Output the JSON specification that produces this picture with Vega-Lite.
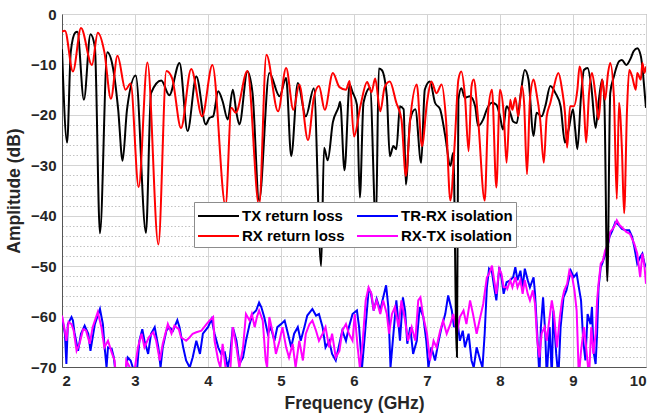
{
"$schema":"https://vega.github.io/schema/vega-lite/v6.json",
"width":584,"height":353,
"autosize":{"type":"none"},
"padding":{"left":62,"top":14,"right":8,"bottom":48},
"background":"white",
"config":{"view":{"stroke":"#8c8c8c","strokeWidth":1},"font":"Liberation Sans"},
"datasets":{
"tx":[[2.00,-7.0],[2.07,-25.5],[2.12,-7.5],[2.18,-3.7],[2.21,-3.5],[2.30,-17.0],[2.39,-4.0],[2.45,-6.5],[2.52,-43.5],[2.62,-7.6],[2.70,-10.8],[2.77,-19],[2.83,-29.1],[2.89,-19],[3.01,-12.2],[3.15,-43.4],[3.22,-15.7],[3.36,-13.2],[3.47,-16.1],[3.61,-9.7],[3.72,-23.2],[3.84,-12.4],[3.97,-21.9],[4.02,-20.6],[4.07,-20.3],[4.14,-15.3],[4.20,-17.3],[4.27,-20.9],[4.34,-15.0],[4.39,-19.6],[4.43,-21.9],[4.54,-11.4],[4.61,-15.7],[4.70,-37.0],[4.84,-11.7],[4.98,-16.3],[5.07,-12.7],[5.14,-28.2],[5.23,-13.7],[5.34,-20.3],[5.45,-14.7],[5.55,-50.0],[5.59,-26.5],[5.64,-29.0],[5.71,-21.5],[5.79,-18.4],[5.81,-17.4],[5.87,-31.0],[5.94,-14.0],[5.98,-15.5],[6.04,-18.0],[6.08,-36.4],[6.13,-17.6],[6.22,-14.6],[6.30,-42.0],[6.34,-10.8],[6.38,-11.1],[6.45,-16.3],[6.49,-28.2],[6.54,-26.2],[6.58,-26.8],[6.63,-18.3],[6.68,-18.9],[6.71,-33.8],[6.77,-20.9],[6.84,-18.9],[6.92,-29.5],[6.97,-15.0],[7.04,-13.4],[7.11,-17.6],[7.18,-18.9],[7.25,-24.2],[7.32,-30.1],[7.36,-27.5],[7.41,-68.0],[7.43,-17.0],[7.47,-14.7],[7.52,-16.6],[7.59,-16.3],[7.66,-18.3],[7.70,-22.2],[7.77,-20.9],[7.82,-18.9],[7.89,-17.6],[7.95,-18.0],[8.00,-20.3],[8.04,-22.9],[8.09,-18.3],[8.14,-19.6],[8.18,-21.3],[8.23,-21.6],[8.28,-16.3],[8.34,-11.1],[8.39,-13.0],[8.46,-24.2],[8.50,-19.6],[8.57,-20.3],[8.62,-18.3],[8.69,-14.3],[8.76,-15.7],[8.83,-18.3],[8.89,-25.5],[8.94,-22.9],[9.00,-18.9],[9.03,-22.9],[9.06,-26.8],[9.11,-16.3],[9.15,-11.1],[9.20,-10.7],[9.25,-14.3],[9.31,-22.6],[9.35,-17.6],[9.40,-13.0],[9.43,-17.6],[9.47,-53.0],[9.51,-15.7],[9.56,-12.4],[9.63,-9.4],[9.67,-9.1],[9.73,-10.1],[9.79,-8.8],[9.83,-7.4],[9.88,-6.8],[9.93,-8.4],[9.96,-12.0],[9.99,-17.0],[10.00,-18.6]],
"rx":[[2.00,-3.5],[2.04,-3.3],[2.15,-11.4],[2.26,-2.8],[2.41,-10.1],[2.49,-3.7],[2.58,-7.5],[2.67,-16.8],[2.76,-8.3],[2.87,-15.0],[2.94,-13.8],[3.05,-34.3],[3.17,-9.6],[3.32,-45.7],[3.43,-11.3],[3.51,-12.8],[3.63,-22.6],[3.77,-10.9],[3.92,-20.3],[4.06,-10.1],[4.24,-38.0],[4.32,-18.6],[4.38,-19.6],[4.54,-11.3],[4.70,-38.0],[4.80,-8.1],[4.96,-19.3],[5.07,-10.7],[5.17,-19.0],[5.25,-14.0],[5.37,-25.0],[5.45,-16.6],[5.52,-14.3],[5.60,-19.0],[5.71,-11.7],[5.80,-14.5],[5.89,-15.0],[5.94,-13.3],[6.00,-24.3],[6.09,-18.1],[6.18,-13.5],[6.24,-15.5],[6.29,-12.8],[6.36,-19.3],[6.42,-14.5],[6.49,-13.4],[6.58,-17.6],[6.65,-20.9],[6.71,-32.1],[6.77,-20.9],[6.86,-14.0],[6.93,-26.2],[7.00,-17.6],[7.06,-13.4],[7.13,-15.7],[7.20,-14.0],[7.26,-20.9],[7.32,-37.0],[7.38,-25.5],[7.43,-13.0],[7.47,-11.4],[7.52,-16.3],[7.57,-27.2],[7.61,-14.3],[7.64,-13.0],[7.70,-20.9],[7.79,-37.0],[7.84,-19.0],[7.89,-15.0],[7.95,-34.4],[8.00,-15.0],[8.05,-19.6],[8.09,-29.5],[8.14,-17.0],[8.17,-19.0],[8.21,-16.6],[8.25,-20.3],[8.30,-14.3],[8.33,-17.6],[8.37,-31.8],[8.41,-17.0],[8.46,-13.0],[8.50,-15.7],[8.55,-20.9],[8.60,-29.5],[8.64,-20.3],[8.69,-17.6],[8.73,-15.0],[8.80,-11.7],[8.85,-15.0],[8.89,-19.6],[8.92,-26.5],[8.96,-18.3],[9.01,-18.3],[9.06,-15.0],[9.09,-10.4],[9.12,-12.4],[9.15,-18.3],[9.18,-25.5],[9.22,-15.7],[9.26,-11.7],[9.31,-16.3],[9.35,-20.9],[9.40,-13.0],[9.44,-17.0],[9.48,-11.7],[9.51,-9.7],[9.56,-16.3],[9.60,-36.7],[9.63,-17.6],[9.67,-26.8],[9.70,-39.5],[9.74,-19.0],[9.77,-11.1],[9.81,-12.4],[9.86,-15.0],[9.88,-11.7],[9.93,-13.0],[9.95,-9.7],[9.98,-11.7],[10.00,-10.4]],
"trrx":[[2.00,-60.1],[2.04,-63.4],[2.06,-69.4],[2.08,-61.5],[2.13,-60.1],[2.15,-60.8],[2.17,-63.1],[2.22,-66.8],[2.26,-63.4],[2.31,-61.8],[2.36,-63.4],[2.39,-66.8],[2.45,-61.5],[2.52,-58.5],[2.56,-61.5],[2.58,-65.4],[2.61,-70.1],[2.63,-66.1],[2.68,-66.4],[2.71,-68.1],[2.74,-72],[2.80,-75],[2.86,-72],[2.90,-68.1],[2.94,-68.7],[2.97,-70.1],[3.02,-72],[3.06,-64.8],[3.10,-62.5],[3.13,-64.8],[3.18,-67.4],[3.22,-63.4],[3.27,-62.1],[3.32,-66.1],[3.35,-70.1],[3.38,-66.1],[3.43,-62.8],[3.47,-62.1],[3.52,-62.8],[3.58,-60.7],[3.61,-62.1],[3.66,-66.1],[3.70,-68.7],[3.75,-70.1],[3.79,-68.1],[3.84,-64.8],[3.89,-67.4],[3.93,-63.4],[4.00,-62.1],[4.05,-60.5],[4.09,-63.4],[4.14,-66.1],[4.18,-67.4],[4.23,-67.1],[4.27,-70.1],[4.30,-68.1],[4.34,-62.1],[4.39,-64.8],[4.43,-69.4],[4.48,-68.1],[4.52,-64.8],[4.57,-61.5],[4.61,-59.5],[4.66,-58.8],[4.70,-57.2],[4.73,-58.1],[4.77,-60.1],[4.82,-63.4],[4.86,-62.1],[4.91,-64.8],[4.95,-62.1],[5.00,-61.5],[5.05,-60.8],[5.09,-63.1],[5.14,-66.1],[5.18,-63.4],[5.23,-62.1],[5.27,-64.8],[5.32,-62.1],[5.36,-59.8],[5.43,-58.5],[5.48,-59.8],[5.52,-59.5],[5.57,-62.1],[5.61,-66.1],[5.66,-64.8],[5.70,-67.4],[5.75,-68.7],[5.80,-65.4],[5.84,-62.8],[5.89,-64.8],[5.93,-62.1],[5.98,-59.5],[6.04,-58.8],[6.07,-62.1],[6.11,-70.1],[6.15,-63.4],[6.20,-54.8],[6.23,-55.2],[6.27,-58.8],[6.31,-56.5],[6.36,-58.8],[6.39,-56.8],[6.44,-53.8],[6.47,-58.1],[6.50,-70.1],[6.54,-63.4],[6.58,-56.8],[6.63,-64.8],[6.67,-56.2],[6.70,-58.8],[6.73,-65.4],[6.77,-62.1],[6.81,-67.4],[6.86,-64.8],[6.90,-58.1],[6.95,-60.1],[6.99,-64.8],[7.02,-70.1],[7.06,-66.1],[7.11,-68.7],[7.16,-64.8],[7.20,-62.1],[7.25,-59.5],[7.29,-55.8],[7.34,-58.8],[7.37,-62.1],[7.41,-60.1],[7.45,-64.8],[7.49,-62.8],[7.52,-66.1],[7.57,-63.4],[7.61,-68.7],[7.64,-70.1],[7.68,-66.1],[7.73,-68.7],[7.76,-70.1],[7.79,-63.4],[7.82,-54.2],[7.85,-50.5],[7.89,-51.2],[7.92,-54.2],[7.95,-56.8],[7.99,-50.2],[8.02,-52.2],[8.05,-55.5],[8.09,-53.2],[8.14,-52.8],[8.18,-52.2],[8.21,-50.2],[8.24,-52.8],[8.28,-50.9],[8.31,-54.2],[8.34,-50.5],[8.38,-52.8],[8.41,-54.2],[8.46,-52.2],[8.48,-55.5],[8.51,-63.4],[8.54,-72],[8.56,-62.1],[8.59,-56.2],[8.62,-63.4],[8.64,-72],[8.68,-62.1],[8.71,-72],[8.73,-58.8],[8.77,-67.4],[8.80,-72],[8.83,-62.1],[8.87,-56.2],[8.91,-54.8],[8.94,-52.8],[8.97,-50.9],[9.01,-52.2],[9.05,-51.5],[9.08,-54.2],[9.11,-56.8],[9.14,-64.8],[9.17,-68.7],[9.20,-59.5],[9.24,-61.5],[9.26,-58.1],[9.28,-66.8],[9.31,-69.4],[9.33,-63.4],[9.35,-54.2],[9.38,-50.2],[9.40,-49.5],[9.43,-48.2],[9.47,-46.2],[9.50,-44.2],[9.54,-42.9],[9.58,-41.3],[9.63,-41.9],[9.67,-42.6],[9.72,-42.9],[9.77,-42.9],[9.81,-44.2],[9.84,-46.2],[9.88,-49.5],[9.92,-48.2],[9.95,-47.5],[9.98,-49.5],[10.00,-50.2]],
"rxtx":[[2.00,-59.8],[2.03,-62.1],[2.06,-64.8],[2.09,-61.1],[2.13,-61.5],[2.16,-62.8],[2.20,-66.8],[2.24,-65.4],[2.29,-62.5],[2.33,-62.8],[2.38,-65.4],[2.42,-62.1],[2.49,-59.1],[2.54,-62.1],[2.58,-66.1],[2.63,-64.8],[2.68,-67.1],[2.72,-68.7],[2.74,-72],[2.82,-75],[2.87,-72],[2.88,-68.7],[2.93,-70.1],[2.98,-72],[3.04,-66.1],[3.09,-63.4],[3.13,-66.1],[3.19,-64.1],[3.25,-63.1],[3.29,-64.8],[3.34,-68.7],[3.38,-65.4],[3.45,-61.5],[3.50,-63.4],[3.54,-61.8],[3.60,-62.5],[3.63,-64.1],[3.70,-64.8],[3.75,-64.1],[3.79,-63.4],[3.84,-63.1],[3.91,-62.8],[3.98,-61.5],[4.02,-60.8],[4.07,-60.1],[4.09,-64.8],[4.14,-68.7],[4.17,-70.1],[4.20,-65.4],[4.24,-70.1],[4.30,-72],[4.34,-62.1],[4.39,-66.1],[4.43,-70.1],[4.48,-66.1],[4.52,-59.5],[4.57,-60.8],[4.60,-59.5],[4.64,-62.1],[4.67,-60.1],[4.70,-58.8],[4.75,-60.8],[4.79,-68.7],[4.81,-70.1],[4.84,-60.1],[4.89,-63.4],[4.93,-67.4],[4.98,-64.8],[5.02,-62.1],[5.07,-66.1],[5.11,-68.1],[5.16,-65.4],[5.20,-70.1],[5.25,-64.8],[5.30,-68.7],[5.34,-63.4],[5.39,-61.5],[5.43,-60.8],[5.48,-62.8],[5.52,-64.8],[5.57,-63.4],[5.61,-62.1],[5.66,-66.1],[5.70,-63.4],[5.75,-68.1],[5.80,-66.8],[5.84,-62.8],[5.89,-61.5],[5.93,-63.4],[5.98,-64.8],[6.01,-59.5],[6.05,-66.1],[6.08,-70.1],[6.12,-64.8],[6.16,-56.8],[6.20,-54.2],[6.24,-55.5],[6.27,-58.8],[6.31,-56.8],[6.36,-59.5],[6.40,-56.8],[6.45,-59.5],[6.48,-63.4],[6.52,-59.5],[6.56,-58.1],[6.61,-62.1],[6.65,-56.8],[6.70,-60.8],[6.74,-64.8],[6.79,-62.1],[6.84,-64.8],[6.88,-56.8],[6.91,-56.2],[6.95,-60.1],[7.00,-63.4],[7.04,-68.7],[7.09,-64.8],[7.13,-66.1],[7.18,-62.8],[7.22,-60.8],[7.27,-63.4],[7.32,-61.5],[7.36,-59.5],[7.41,-63.4],[7.45,-60.1],[7.50,-58.8],[7.54,-61.5],[7.59,-56.8],[7.63,-59.5],[7.68,-63.4],[7.73,-60.1],[7.77,-57.5],[7.82,-52.2],[7.85,-51.5],[7.89,-49.9],[7.92,-52.8],[7.95,-55.5],[7.99,-50.5],[8.02,-51.5],[8.05,-54.2],[8.09,-54.2],[8.10,-54.5],[8.14,-52.8],[8.17,-54.2],[8.21,-52.2],[8.24,-54.2],[8.28,-52.8],[8.31,-55.5],[8.34,-52.8],[8.38,-55.5],[8.41,-56.8],[8.45,-54.8],[8.48,-57.5],[8.51,-64.8],[8.54,-68.1],[8.57,-63.4],[8.61,-62.1],[8.64,-64.8],[8.68,-60.1],[8.71,-56.8],[8.74,-59.5],[8.78,-66.1],[8.82,-60.1],[8.85,-56.8],[8.88,-54.8],[8.92,-53.5],[8.95,-50.9],[8.99,-52.2],[9.02,-54.8],[9.05,-58.8],[9.08,-72],[9.11,-66.8],[9.15,-62.1],[9.18,-66.1],[9.22,-72],[9.25,-62.1],[9.28,-67.4],[9.31,-63.4],[9.33,-56.8],[9.35,-53.5],[9.38,-49.5],[9.41,-48.9],[9.44,-46.9],[9.48,-45.6],[9.51,-43.2],[9.56,-42.3],[9.60,-40.9],[9.64,-41.9],[9.69,-42.6],[9.73,-43.2],[9.78,-43.6],[9.81,-44.6],[9.84,-45.6],[9.88,-47.5],[9.92,-52.2],[9.95,-47.5],[9.98,-50.2],[10.00,-53.5]]
},
"encoding":{
 "x":{"field":"f","type":"quantitative","scale":{"domain":[2,10],"nice":false},
   "axis":{"tickCount":40,"grid":true,"format":"d",
     "gridColor":{"condition":{"test":"abs(datum.value-round(datum.value))<0.01","value":"#d4d4d4"},"value":"#b4b4b4"},
     "gridDash":{"condition":{"test":"abs(datum.value-round(datum.value))<0.01","value":[]},"value":[1.5,2]},
     "gridWidth":{"condition":{"test":"abs(datum.value-round(datum.value))<0.01","value":1},"value":0.8},
     "labelExpr":"abs(datum.value-round(datum.value))<0.01 ? datum.label : ''",
     "labelOverlap":false,"labelFont":"Liberation Sans","labelFontWeight":"bold","labelFontSize":15,"labelColor":"#262626","labelPadding":6,
     "ticks":false,"domain":true,"domainColor":"#555555",
     "title":"Frequency (GHz)","titleFont":"Liberation Sans","titleFontSize":17.5,"titleFontWeight":"bold","titleColor":"#262626","titlePadding":6}},
 "y":{"field":"a","type":"quantitative","scale":{"domain":[-70,0],"nice":false},
   "axis":{"tickCount":35,"grid":true,"format":"d",
     "gridColor":{"condition":{"test":"abs(datum.value % 10)<0.01","value":"#d4d4d4"},"value":"#b4b4b4"},
     "gridDash":{"condition":{"test":"abs(datum.value % 10)<0.01","value":[]},"value":[1.5,2]},
     "gridWidth":{"condition":{"test":"abs(datum.value % 10)<0.01","value":1},"value":0.8},
     "labelExpr":"abs(datum.value % 10)<0.01 ? datum.label : ''",
     "labelOverlap":false,"labelFont":"Liberation Sans","labelFontWeight":"bold","labelFontSize":15,"labelColor":"#262626","labelPadding":6,
     "ticks":false,"domain":true,"domainColor":"#555555",
     "title":"Amplitude (dB)","titleFont":"Liberation Sans","titleFontSize":17.5,"titleFontWeight":"bold","titleColor":"#262626","titlePadding":7}},
 "color":{"field":"s","type":"nominal",
  "scale":{"domain":["TX return loss","RX return loss","TR-RX isolation","RX-TX isolation"],"range":["#000000","#ff0000","#0000ff","#ff00ff"]},
  "legend":{"title":null,"orient":"none","legendX":132,"legendY":188,"columns":2,"symbolType":"M-1,0H3.1","symbolSize":400,"symbolStrokeWidth":2,"labelFont":"Liberation Sans","labelFontWeight":"bold","labelFontSize":15,"labelColor":"#000","labelOffset":23,"padding":3,"rowPadding":1,"columnPadding":8,"strokeColor":"#8c8c8c","fillColor":"#ffffff"}}
},
"layer":[
 {"data":{"name":"trrx"},"transform":[{"calculate":"'TR-RX isolation'","as":"s"},{"calculate":"datum[0]","as":"f"},{"calculate":"datum[1]","as":"a"}],
  "mark":{"type":"line","clip":true,"strokeWidth":2}},
 {"data":{"name":"rxtx"},"transform":[{"calculate":"'RX-TX isolation'","as":"s"},{"calculate":"datum[0]","as":"f"},{"calculate":"datum[1]","as":"a"}],
  "mark":{"type":"line","clip":true,"strokeWidth":2}},
 {"data":{"name":"tx"},"transform":[{"calculate":"'TX return loss'","as":"s"},{"calculate":"datum[0]","as":"f"},{"calculate":"datum[1]","as":"a"}],
  "mark":{"type":"line","clip":true,"strokeWidth":2,"interpolate":"monotone"}},
 {"data":{"name":"rx"},"transform":[{"calculate":"'RX return loss'","as":"s"},{"calculate":"datum[0]","as":"f"},{"calculate":"datum[1]","as":"a"}],
  "mark":{"type":"line","clip":true,"strokeWidth":2,"interpolate":"monotone"}}
]
}
